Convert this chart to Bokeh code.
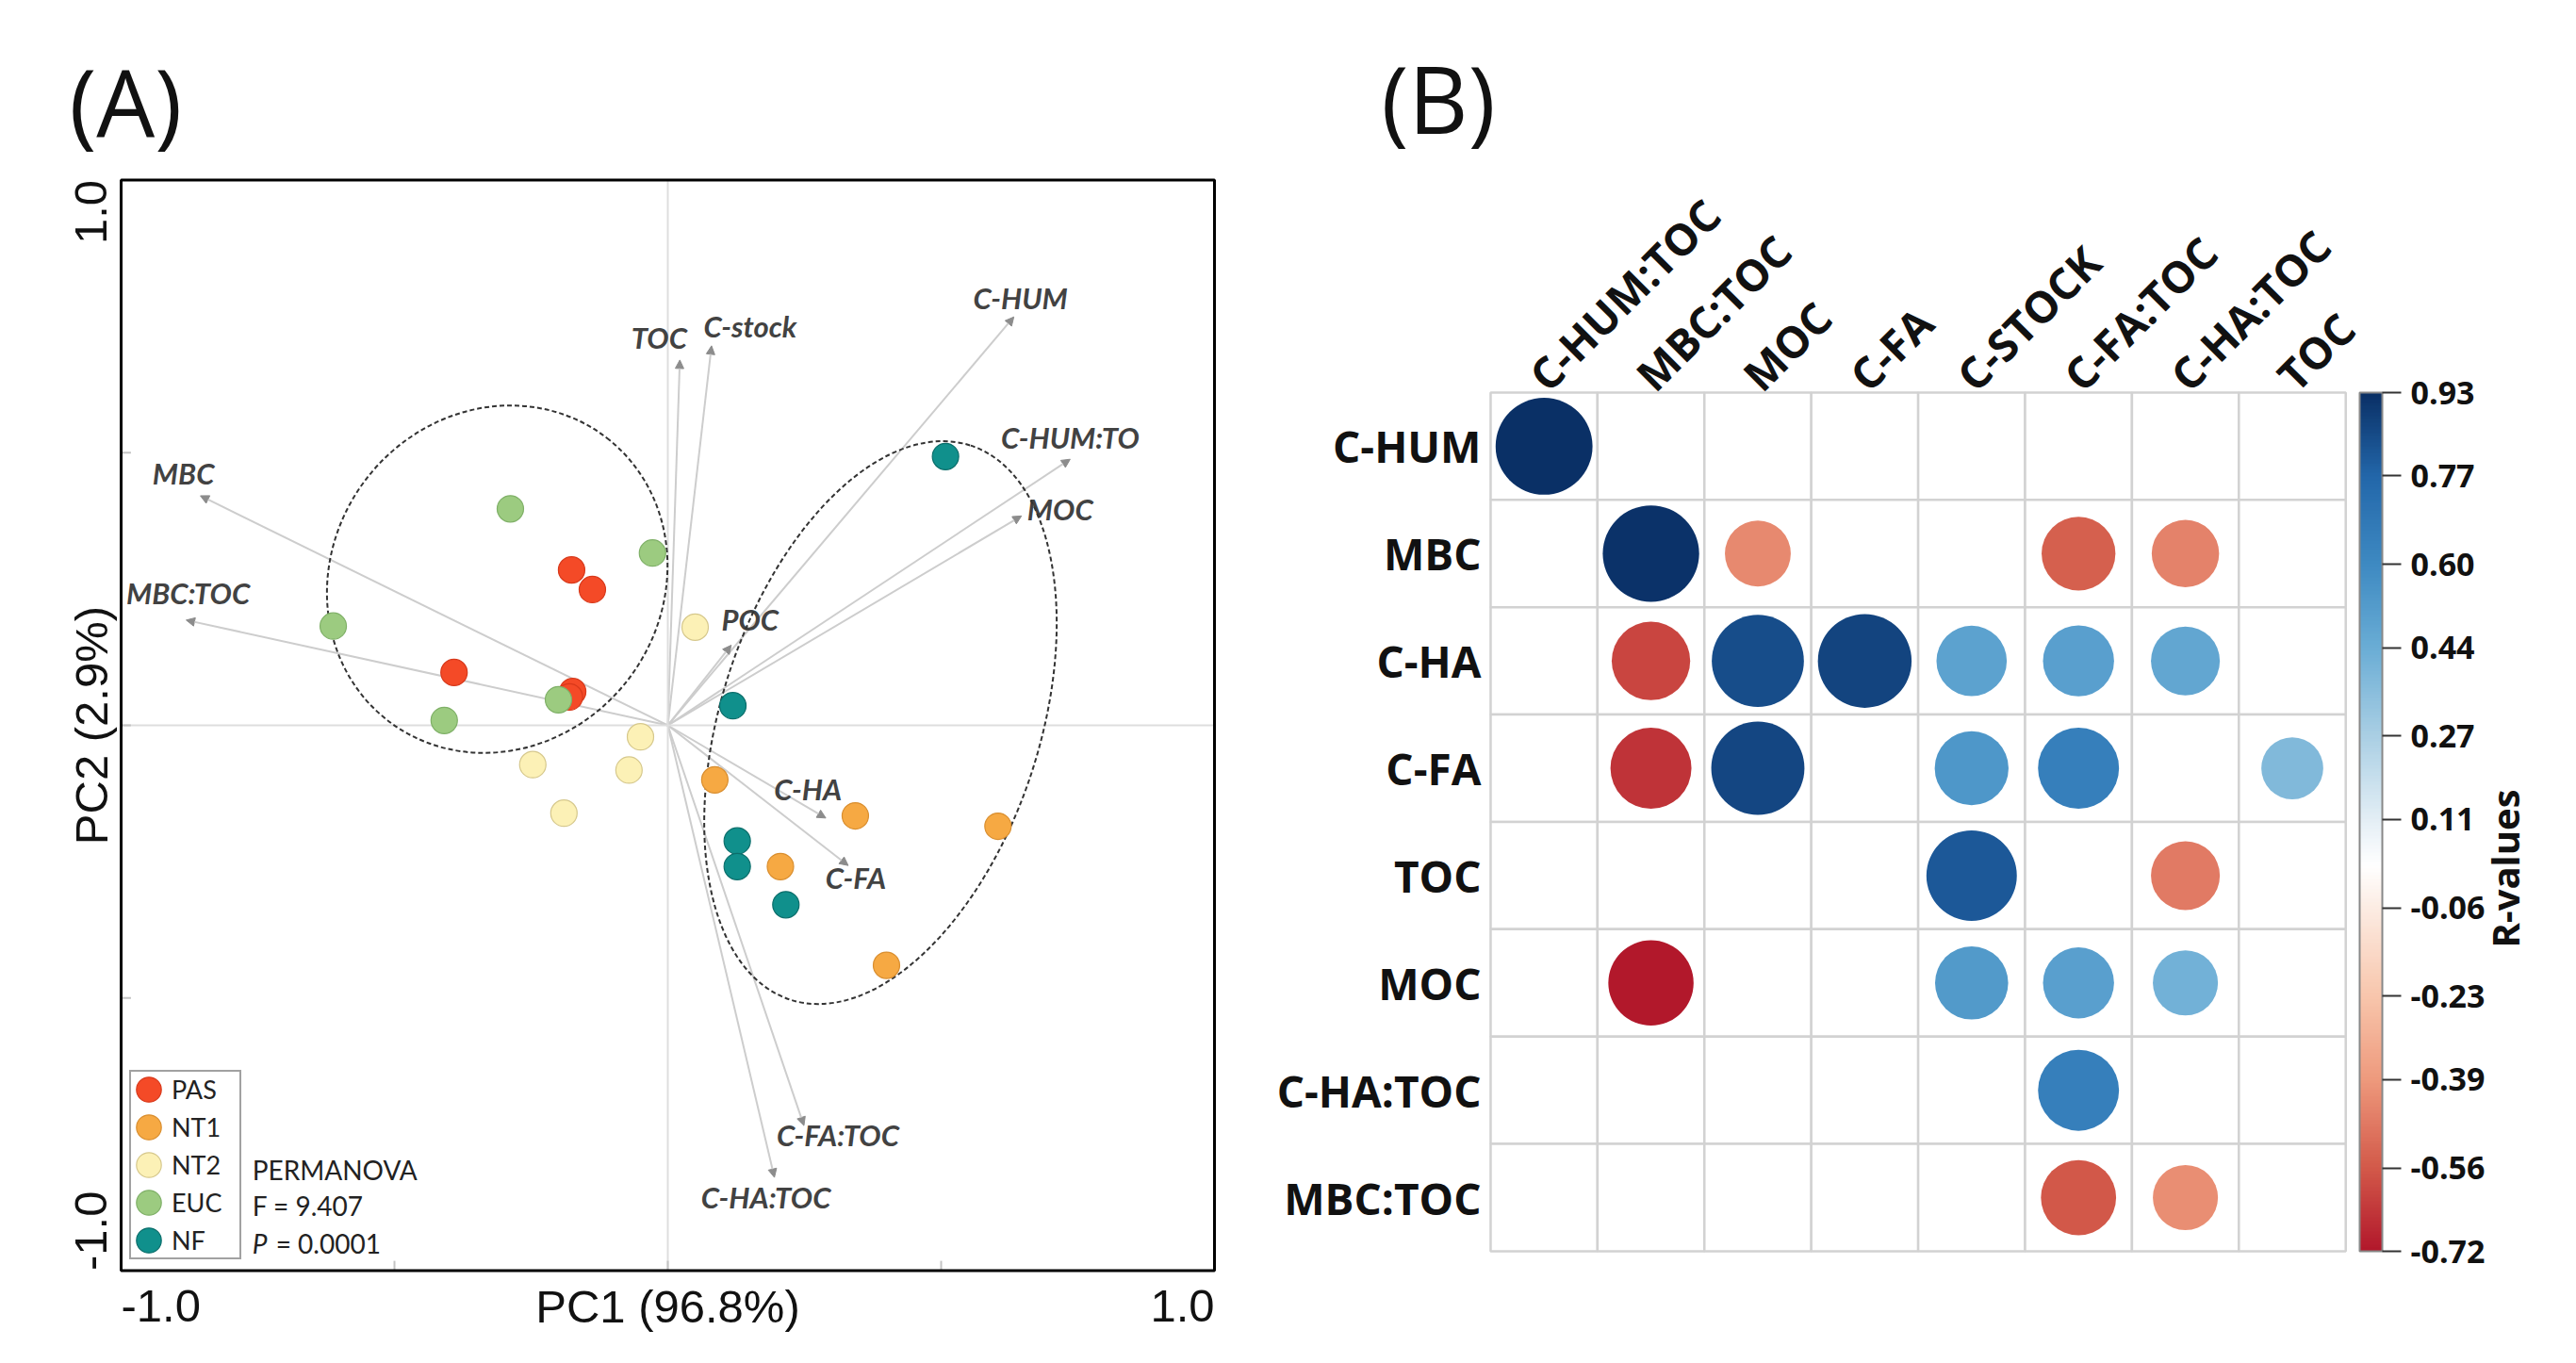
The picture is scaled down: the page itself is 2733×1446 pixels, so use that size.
import numpy as np
from bokeh.plotting import figure
from bokeh.models import (ColumnDataSource, Arrow, NormalHead, Label, Legend, LegendItem,
                          FixedTicker, LinearColorMapper, ColorBar, PrintfTickFormatter,
                          BoxAnnotation, Range1d, AllLabels)
from bokeh.layouts import row
from bokeh.embed import file_html
from bokeh.resources import INLINE
from bokeh.core.properties import value

# ---------------- Panel A data (PCA biplot) ----------------
groups = ["PAS", "NT1", "NT2", "EUC", "NF"]
group_fill = ["#F44A27", "#F6A943", "#FCF1B6", "#9CCB80", "#10908C"]
group_line = ["#D8391B", "#D98E2F", "#D6C88C", "#7FB067", "#0B6E6B"]

pc1_pas = [-0.176, -0.138, -0.391, -0.174, -0.180]
pc2_pas = [0.285, 0.249, 0.097, 0.062, 0.052]
pc1_nt1 = [0.086, 0.343, 0.604, 0.206, 0.400]
pc2_nt1 = [-0.100, -0.166, -0.185, -0.259, -0.440]
pc1_nt2 = [0.050, -0.050, -0.247, -0.071, -0.190]
pc2_nt2 = [0.180, -0.021, -0.072, -0.082, -0.161]
pc1_euc = [-0.288, -0.028, -0.612, -0.409, -0.200]
pc2_euc = [0.397, 0.316, 0.182, 0.009, 0.047]
pc1_nf = [0.508, 0.119, 0.127, 0.127, 0.216]
pc2_nf = [0.493, 0.036, -0.212, -0.259, -0.329]

arrow_names = ["TOC", "C-stock", "C-HUM", "C-HUM:TO", "MOC", "MBC", "MBC:TOC",
               "POC", "C-HA", "C-FA", "C-FA:TOC", "C-HA:TOC"]
arrow_pc1 = [0.022, 0.080, 0.633, 0.736, 0.647, -0.855, -0.881, 0.116, 0.289, 0.330, 0.249, 0.195]
arrow_pc2 = [0.670, 0.696, 0.749, 0.488, 0.384, 0.421, 0.193, 0.147, -0.170, -0.257, -0.734, -0.829]

ellipse_x = [-0.312, 0.389]
ellipse_y = [0.268, 0.005]
ellipse_w = [0.654, 1.066]
ellipse_h = [0.605, 0.584]
ellipse_angle = [0.91, 1.256]

axis_limits = [-1.0, 1.0]
axis_ticks = [-0.5, 0.0, 0.5]

# ---------------- Panel B data (correlation matrix) ----------------
corr_rows = ["C-HUM", "MBC", "C-HA", "C-FA", "TOC", "MOC", "C-HA:TOC", "MBC:TOC"]
corr_cols = ["C-HUM:TOC", "MBC:TOC", "MOC", "C-FA", "C-STOCK", "C-FA:TOC", "C-HA:TOC", "TOC"]

corr_row = ["C-HUM",
            "MBC", "MBC", "MBC", "MBC",
            "C-HA", "C-HA", "C-HA", "C-HA", "C-HA", "C-HA",
            "C-FA", "C-FA", "C-FA", "C-FA", "C-FA",
            "TOC", "TOC",
            "MOC", "MOC", "MOC", "MOC",
            "C-HA:TOC",
            "MBC:TOC", "MBC:TOC"]
corr_col = ["C-HUM:TOC",
            "MBC:TOC", "MOC", "C-FA:TOC", "C-HA:TOC",
            "MBC:TOC", "MOC", "C-FA", "C-STOCK", "C-FA:TOC", "C-HA:TOC",
            "MBC:TOC", "MOC", "C-STOCK", "C-FA:TOC", "TOC",
            "C-STOCK", "C-HA:TOC",
            "MBC:TOC", "C-STOCK", "C-FA:TOC", "C-HA:TOC",
            "C-FA:TOC",
            "C-FA:TOC", "C-HA:TOC"]
corr_r = [0.93,
          0.92, -0.43, -0.54, -0.45,
          -0.61, 0.84, 0.87, 0.49, 0.50, 0.47,
          -0.65, 0.86, 0.54, 0.65, 0.38,
          0.81, -0.47,
          -0.72, 0.53, 0.50, 0.42,
          0.65,
          -0.56, -0.42]

cb_ticks = [-0.72, -0.56, -0.39, -0.23, -0.06, 0.11, 0.27, 0.44, 0.60, 0.77, 0.93]

# colour scale anchors (styling)
cs_vals = [-0.72, -0.56, -0.39, -0.23, -0.06, 0.02, 0.11, 0.27, 0.44, 0.60, 0.77, 0.93]
cs_cols = ["#B2182B", "#D35A4A", "#EE9A7D", "#F8C6AC", "#FCECE3", "#FFFFFF",
           "#E3EEF5", "#AACFE4", "#6AADD5", "#3E8AC2", "#2367AA", "#0A3066"]


def _rgb(h):
    h = h.lstrip("#")
    return np.array([int(h[i:i + 2], 16) for i in (0, 2, 4)], dtype=float)


anchor_rgb = np.array([_rgb(c) for c in cs_cols])
palette = []
for v in np.linspace(cs_vals[0], cs_vals[-1], 256):
    rgb = [np.interp(v, cs_vals, anchor_rgb[:, k]) for k in range(3)]
    palette.append("#%02x%02x%02x" % tuple(int(round(c)) for c in rgb))

# ======================= Panel A =======================
pA = figure(width=1330, height=1438, x_range=Range1d(-1.2207, 1.0724), y_range=Range1d(-1.1564, 1.3293),
            min_border=0, x_axis_type=None, y_axis_type=None,
            output_backend="svg", toolbar_location=None)
pA.grid.visible = False
pA.outline_line_color = None
pA.background_fill_color = "white"

lo, hi = axis_limits
# zero lines across the plotting box
pA.segment(x0=[lo, 0.0], y0=[0.0, lo], x1=[hi, 0.0], y1=[0.0, hi], line_color="#dedede", line_width=2)
# small inward ticks
tk = 0.018
pA.segment(x0=axis_ticks, y0=[lo] * 3, x1=axis_ticks, y1=[lo + tk] * 3, line_color="#c4c4c4", line_width=2)
pA.segment(x0=[lo] * 3, y0=axis_ticks, x1=[lo + tk] * 3, y1=axis_ticks, line_color="#c4c4c4", line_width=2)

arrow_src = ColumnDataSource(dict(
    x0=[0.0] * len(arrow_names), y0=[0.0] * len(arrow_names),
    x1=arrow_pc1, y1=arrow_pc2, name=arrow_names,
    dx=[-22, 41, 7, 0, 41, -18, 2, 20, -19, 8, 36, -9],
    dy=[-24, -21, -20, -23, -7, -24, -29, -27, -31, 13, 10, 21]))
arr = Arrow(end=NormalHead(size=9, fill_color="#8c8c8c", line_color="#8c8c8c", line_width=1),
            x_start="x0", y_start="y0", x_end="x1", y_end="y1", source=arrow_src,
            line_color="#cdcdcd", line_width=2, level="underlay")
pA.add_layout(arr)

pA.text(x="x1", y="y1", text="name", x_offset="dx", y_offset="dy", source=arrow_src,
        text_font=value("Lato"), text_font_style="bold italic", text_font_size="31px",
        text_color="#424242", text_align="center", text_baseline="middle")

ell_src = ColumnDataSource(dict(x=ellipse_x, y=ellipse_y, w=ellipse_w, h=ellipse_h, a=ellipse_angle))
pA.ellipse(x="x", y="y", width="w", height="h", angle="a", source=ell_src,
           fill_color=None, line_color="#333333", line_width=2, line_dash="5 3")

group_data = [(pc1_pas, pc2_pas), (pc1_nt1, pc2_nt1), (pc1_nt2, pc2_nt2),
              (pc1_euc, pc2_euc), (pc1_nf, pc2_nf)]
items = []
for g, (gx, gy), fc, lc in zip(groups, group_data, group_fill, group_line):
    r = pA.ellipse(x=gx, y=gy, width=28, height=28, width_units="screen", height_units="screen",
                   fill_color=fc, line_color=lc, line_width=1.2)
    items.append(LegendItem(label=g, renderers=[r]))

pA.add_layout(BoxAnnotation(left=lo, right=hi, bottom=lo, top=hi, fill_alpha=0,
                            line_color="black", line_width=3, line_alpha=1))

legend = Legend(items=items, location=(137, 102), orientation="vertical",
                glyph_width=33, glyph_height=33, label_height=33, spacing=7, padding=2, margin=0,
                label_standoff=8, label_width=70,
                label_text_font="Lato", label_text_font_size="27px", label_text_color="#222222",
                border_line_color="#444444", border_line_width=2.5, background_fill_color="white",
                background_fill_alpha=1)
pA.add_layout(legend)

txt = dict(text_font="Lato", text_font_size="28px", text_color="#222222", text_baseline="middle")
pA.add_layout(Label(x=-0.760, y=-0.815, text="PERMANOVA", **txt))
pA.add_layout(Label(x=-0.760, y=-0.881, text="F = 9.407", **txt))
pA.add_layout(Label(x=-0.760, y=-0.950, text="P", text_font_style="italic", **txt))
pA.add_layout(Label(x=-0.760, y=-0.950, x_offset=25, text="= 0.0001", **txt))

ax_txt = dict(text_font="Liberation Sans", text_font_size="49px", text_color="#111111",
              text_baseline="middle")
pA.add_layout(Label(x=0.0, y=-1.065, text="PC1 (96.8%)", text_align="center", **ax_txt))
pA.add_layout(Label(x=-1.055, y=0.0, text="PC2 (2.9%)", angle=np.pi / 2, text_align="center", **ax_txt))
pA.add_layout(Label(x=lo, y=-1.065, text="-1.0", text_align="left", **ax_txt))
pA.add_layout(Label(x=hi, y=-1.065, text="1.0", text_align="right", **ax_txt))
pA.add_layout(Label(x=-1.055, y=hi, text="1.0", angle=np.pi / 2, text_align="right", **ax_txt))
pA.add_layout(Label(x=-1.055, y=lo, text="-1.0", angle=np.pi / 2, text_align="left", **ax_txt))

pA.add_layout(Label(x=-1.095, y=1.146, text="(A)", text_font="Open Sans", text_font_size="98px",
                    text_color="#111111", text_baseline="alphabetic", text_align="left"))

# ======================= Panel B =======================
pB = figure(width=1395, height=1438, x_range=Range1d(-2.713, 9.588), y_range=Range1d(-1.475, 11.153),
            min_border=0, x_axis_type=None, y_axis_type=None,
            output_backend="svg", toolbar_location=None)
pB.outline_line_color = None
pB.grid.visible = False

n = len(corr_rows)
col_pos = {c: j for j, c in enumerate(corr_cols)}
row_pos = {r: n - 1 - i for i, r in enumerate(corr_rows)}

cell_x = [col_pos[c] for r in corr_rows for c in corr_cols]
cell_y = [row_pos[r] for r in corr_rows for c in corr_cols]
pB.rect(x=cell_x, y=cell_y, width=1, height=1, fill_color="white",
        line_color="#d2d2d2", line_width=2.5)

mapper = LinearColorMapper(palette=palette, low=-0.72, high=0.93)
corr_src = ColumnDataSource(dict(x=[col_pos[c] for c in corr_col], y=[row_pos[r] for r in corr_row],
                                 v=corr_r, rad=[0.47 * np.sqrt(abs(v)) for v in corr_r]))
pB.circle(x="x", y="y", radius="rad", source=corr_src,
          fill_color={"field": "v", "transform": mapper}, line_color=None)

lab_font = dict(text_font=value("Open Sans"), text_font_style="bold", text_font_size="46px",
                text_color="#111111")
pB.text(x=[-0.5] * n, y=[row_pos[r] for r in corr_rows], text=corr_rows, x_offset=-10,
        text_align="right", text_baseline="middle", **lab_font)
pB.text(x=[col_pos[c] for c in corr_cols], y=[n - 0.5] * n, text=corr_cols, angle=np.pi / 4,
        x_offset=-8, y_offset=-11, text_align="left", text_baseline="alphabetic", **lab_font)

cbar = ColorBar(color_mapper=mapper, orientation="vertical", location=(1173, 111),
                ticker=FixedTicker(ticks=cb_ticks), formatter=PrintfTickFormatter(format="%.2f"),
                major_label_policy=AllLabels(),
                width=24, height=911, padding=0, margin=0, label_standoff=10,
                major_tick_out=20, major_tick_in=0, major_tick_line_color="#333333",
                major_tick_line_width=2, minor_tick_line_color=None,
                bar_line_color="#888888", bar_line_width=2,
                major_label_text_font="Open Sans", major_label_text_font_style="bold",
                major_label_text_font_size="34px", major_label_text_color="#111111",
                background_fill_color=None, border_line_color=None)
pB.add_layout(cbar)

pB.add_layout(Label(x=8.989, y=3.065, text="R-values", angle=np.pi / 2, text_font="Open Sans",
                    text_font_style="bold", text_font_size="40px", text_color="#111111",
                    text_align="center", text_baseline="middle"))
pB.add_layout(Label(x=-1.523, y=10.24, text="(B)", text_font="Open Sans", text_font_size="98px",
                    text_color="#111111", text_baseline="alphabetic", text_align="left"))

layout = row(pA, pB)
open("out.html", "w").write(file_html(layout, INLINE))
